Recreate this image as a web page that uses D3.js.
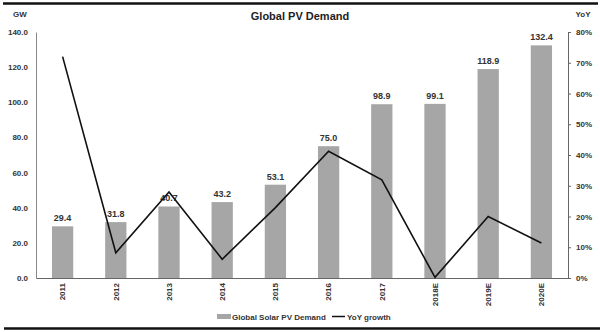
<!DOCTYPE html>
<html><head><meta charset="utf-8">
<script src="https://cdn.jsdelivr.net/npm/d3@7/dist/d3.min.js"></script>
<style>body{margin:0;background:#fff}svg{display:block;font-family:Arial,"Liberation Sans",sans-serif}</style>
</head><body><svg id="c" width="600" height="332"></svg>
<script>
const categories = ["2011","2012","2013","2014","2015","2016","2017","2018E","2019E","2020E"];
const demand = [29.4,31.8,40.7,43.2,53.1,75.0,98.9,99.1,118.9,132.4];
const yoy = [72,8.2,28,6.1,22.9,41.2,31.9,0.2,20,11.4];
const leftTicks = [0,20,40,60,80,100,120,140];
const rightTicks = [0,10,20,30,40,50,60,70,80];

const svg = d3.select("#c");
const L = 36, R = 568, T = 32, B = 278;
const x = d3.scaleBand().domain(categories).range([L,R]).paddingInner(0.6).paddingOuter(0.3);
const y = d3.scaleLinear().domain([0,140]).range([B,T]);
const y2 = d3.scaleLinear().domain([0,80]).range([B,T]);

// frame lines
svg.append("line").attr("x1",3).attr("x2",598).attr("y1",3.5).attr("y2",3.5).attr("stroke","#111").attr("stroke-width",2.5);
svg.append("line").attr("x1",4).attr("x2",600).attr("y1",328.5).attr("y2",328.5).attr("stroke","#111").attr("stroke-width",2.5);

// title
svg.append("text").attr("x",300).attr("y",20).attr("text-anchor","middle").attr("font-size",11).attr("font-weight","bold").attr("fill","#222").text("Global PV Demand");
svg.append("text").attr("x",20).attr("y",17).attr("text-anchor","middle").attr("font-size",8).attr("font-weight","bold").attr("fill","#333").text("GW");
svg.append("text").attr("x",583).attr("y",17).attr("text-anchor","middle").attr("font-size",8).attr("font-weight","bold").attr("fill","#333").text("YoY");

// bars
svg.append("g").selectAll("rect").data(categories).join("rect")
  .attr("x",d=>x(d)).attr("width",x.bandwidth())
  .attr("y",(d,i)=>y(demand[i])).attr("height",(d,i)=>B-y(demand[i]))
  .attr("fill","#a6a6a6");

// left axis
const ga = svg.append("g").attr("transform",`translate(${L},0)`)
  .call(d3.axisLeft(y).tickValues(leftTicks).tickFormat(d3.format(".1f")).tickSize(0).tickPadding(8));
ga.select(".domain").attr("stroke","#888");
ga.selectAll("text").attr("font-size",8).attr("font-weight","bold").attr("fill","#333").attr("font-family","Arial, 'Liberation Sans', sans-serif");

// right axis
const gr = svg.append("g").attr("transform",`translate(${R},0)`)
  .call(d3.axisRight(y2).tickValues(rightTicks).tickFormat(d=>d+"%").tickSize(3).tickPadding(5));
gr.select(".domain").attr("stroke","#666");
gr.selectAll("line").attr("stroke","#666");
gr.selectAll("text").attr("font-size",8).attr("font-weight","bold").attr("fill","#333").attr("font-family","Arial, 'Liberation Sans', sans-serif");

// x axis
const gx = svg.append("g").attr("transform",`translate(0,${B})`)
  .call(d3.axisBottom(x).tickSize(0).tickPadding(0));
gx.select(".domain").attr("stroke","#666");
gx.selectAll("text").attr("font-size",8).attr("font-weight","bold").attr("fill","#333")
  .attr("font-family","Arial, 'Liberation Sans', sans-serif")
  .attr("text-anchor","end").attr("dy","0.35em")
  .attr("transform","translate(0,5) rotate(-90)");

// bar labels
svg.append("g").selectAll("text").data(categories).join("text")
  .attr("x",d=>x(d)+x.bandwidth()/2).attr("y",(d,i)=>y(demand[i])-5)
  .attr("text-anchor","middle").attr("font-size",9).attr("font-weight","bold").attr("fill","#333")
  .text((d,i)=>demand[i].toFixed(1));

// line
const line = d3.line().x((d,i)=>x(categories[i])+x.bandwidth()/2).y(d=>y2(d));
svg.append("path").datum(yoy).attr("d",line).attr("fill","none").attr("stroke","#111").attr("stroke-width",1.6);

// legend
const lg = svg.append("g");
lg.append("rect").attr("x",217).attr("y",314).attr("width",14).attr("height",5).attr("fill","#a6a6a6");
lg.append("text").attr("x",232).attr("y",319.5).attr("font-size",8).attr("font-weight","bold").attr("fill","#333").text("Global Solar PV Demand");
lg.append("line").attr("x1",332).attr("x2",345).attr("y1",316.5).attr("y2",316.5).attr("stroke","#111").attr("stroke-width",1.5);
lg.append("text").attr("x",347).attr("y",319.5).attr("font-size",8).attr("font-weight","bold").attr("fill","#333").text("YoY growth");
</script></body></html>
